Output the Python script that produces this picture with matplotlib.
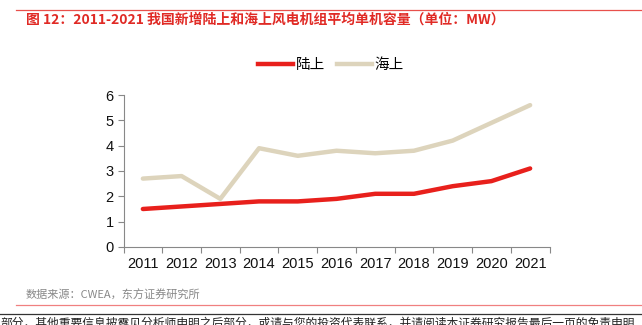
import matplotlib.pyplot as plt
from matplotlib.lines import Line2D

plt.rcParams['font.family'] = ['Noto Sans CJK SC', 'DejaVu Sans']

years = ['2011', '2012', '2013', '2014', '2015', '2016', '2017', '2018', '2019', '2020', '2021']
onshore = [1.5, 1.6, 1.7, 1.8, 1.8, 1.9, 2.1, 2.1, 2.4, 2.6, 3.1]
offshore = [2.7, 2.8, 1.9, 3.9, 3.6, 3.8, 3.7, 3.8, 4.2, 4.9, 5.6]

RED = '#E8201C'
BEIGE = '#DDD4BC'

W, H = 642, 325
fig = plt.figure(figsize=(W / 100, H / 100), dpi=100)

# axes placement in pixels (left, bottom y, right, top y)
x0, x1 = 123.5, 549.5
y_top, y_bot = 95, 247
ax = fig.add_axes([x0 / W, 1 - y_bot / H, (x1 - x0) / W, (y_bot - y_top) / H])

x = list(range(len(years)))
ax.plot(x, offshore, color=BEIGE, lw=3.2, solid_capstyle='round', label='海上')
ax.plot(x, onshore, color=RED, lw=3.2, solid_capstyle='round', label='陆上')

ax.set_xlim(-0.5, len(years) - 0.5)
ax.set_ylim(0, 6)
ax.set_yticks(range(7))
ax.set_xticks([i - 0.5 for i in range(len(years) + 1)], minor=False)
ax.set_xticklabels([])
ax.set_xticks(x, minor=True)
ax.set_xticklabels(years, minor=True)
ax.tick_params(axis='x', which='minor', length=0, pad=7, labelsize=10.5, colors='#111111')
ax.tick_params(axis='x', which='major', length=4, color='#888888', direction='out')
ax.tick_params(axis='y', length=4, color='#888888', labelsize=10.5, colors='#111111', pad=3)
for t in ax.get_yticklabels() + ax.get_xticklabels(minor=True):
    t.set_color('#111111')
    t.set_family('Liberation Sans')
for s in ['top', 'right']:
    ax.spines[s].set_visible(False)
for s in ['left', 'bottom']:
    ax.spines[s].set_color('#888888')
    ax.spines[s].set_linewidth(0.8)

handles = [Line2D([], [], color=RED, lw=3.2), Line2D([], [], color=BEIGE, lw=3.2)]
fig.legend(handles, ['陆上', '海上'], loc='center', bbox_to_anchor=(331 / W, 1 - 65 / H),
           ncol=2, frameon=False, fontsize=10.5, handlelength=2.4, handletextpad=0.2,
           columnspacing=0.8)

# header and footer
fig.add_artist(Line2D([16 / W, 1], [1 - 9.5 / H] * 2, color='#E8504C', lw=0.9))
fig.text(26 / W, 1 - 20 / H, '图 12：2011-2021 我国新增陆上和海上风电机组平均单机容量（单位：MW）',
         color='#E02A25', fontsize=10, fontweight='bold', va='center', ha='left')
fig.text(26 / W, 1 - 295 / H, '数据来源：CWEA，东方证券研究所', color='#888888',
         fontsize=8, va='center', ha='left')
fig.add_artist(Line2D([16 / W, 1], [1 - 304.5 / H] * 2, color='#F08080', lw=0.9))
fig.add_artist(Line2D([0, 1], [1 - 313.5 / H] * 2, color='#333333', lw=0.9))
fig.text(0, 1 - 323 / H, '部分，其他重要信息披露见分析师申明之后部分，或请与您的投资代表联系，并请阅读本证券研究报告最后一页的免责申明',
         color='#222222', fontsize=8.5, va='center', ha='left')

fig.savefig('out.png', dpi=100)
